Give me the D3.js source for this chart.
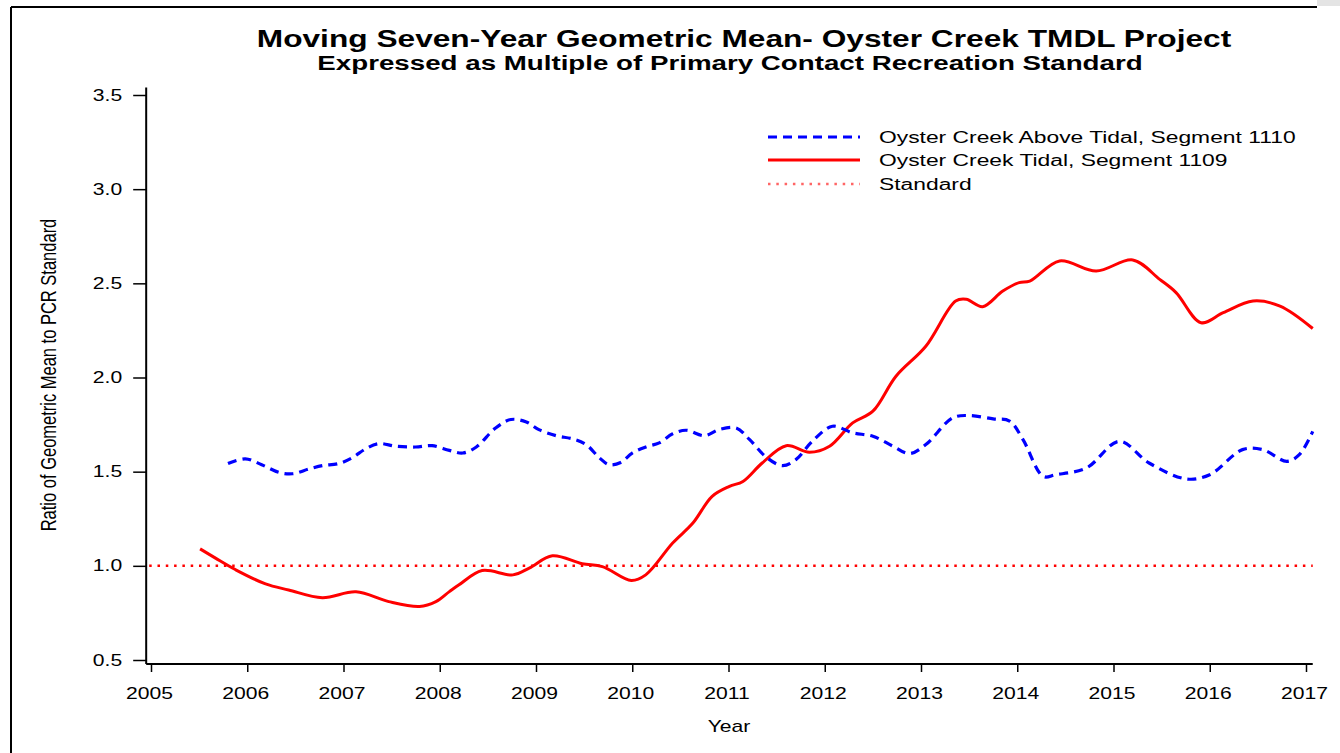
<!DOCTYPE html>
<html>
<head>
<meta charset="utf-8">
<script src="https://cdn.jsdelivr.net/npm/d3@7"></script>
<style>
  html, body { margin: 0; padding: 0; background: #fff; }
  svg { display: block; font-family: "Liberation Sans", Arial, sans-serif; }
</style>
</head>
<body>
<svg id="chart" width="1340" height="753"></svg>
<script>
// Data
const seriesNames = ["Oyster Creek Above Tidal, Segment 1110", "Oyster Creek Tidal, Segment 1109", "Standard"];

const blueYears = [2005.80, 2005.98, 2006.15, 2006.33, 2006.47, 2006.64, 2006.78, 2006.95, 2007.09, 2007.23,
  2007.37, 2007.54, 2007.75, 2007.92, 2008.10, 2008.24, 2008.38, 2008.58, 2008.74, 2008.90,
  2009.03, 2009.21, 2009.38, 2009.52, 2009.66, 2009.76, 2009.88, 2010.00, 2010.14, 2010.28,
  2010.42, 2010.56, 2010.75, 2010.90, 2011.08, 2011.22, 2011.39, 2011.56, 2011.70, 2011.87,
  2012.08, 2012.29, 2012.50, 2012.71, 2012.88, 2013.05, 2013.33, 2013.50, 2013.75, 2013.92,
  2014.06, 2014.27, 2014.40, 2014.72, 2015.06, 2015.37, 2015.76, 2016.00, 2016.34, 2016.55,
  2016.80, 2016.93, 2017.07];
const blueValues = [1.543, 1.568, 1.537, 1.496, 1.489, 1.514, 1.532, 1.543, 1.574, 1.621,
  1.649, 1.635, 1.631, 1.638, 1.613, 1.599, 1.631, 1.732, 1.777, 1.764,
  1.723, 1.691, 1.674, 1.644, 1.573, 1.537, 1.549, 1.599, 1.631, 1.653,
  1.701, 1.720, 1.691, 1.723, 1.732, 1.670, 1.578, 1.532, 1.564, 1.661,
  1.741, 1.706, 1.688, 1.635, 1.596, 1.644, 1.786, 1.798, 1.780, 1.769,
  1.670, 1.475, 1.484, 1.520, 1.661, 1.546, 1.461, 1.484, 1.617, 1.617,
  1.555, 1.590, 1.714];

const redYears = [2005.51, 2005.67, 2005.88, 2006.19, 2006.43, 2006.78, 2007.13, 2007.47, 2007.79, 2007.96,
  2008.10, 2008.20, 2008.44, 2008.76, 2008.93, 2009.17, 2009.48, 2009.69, 2009.99, 2010.14,
  2010.42, 2010.63, 2010.83, 2011.01, 2011.15, 2011.35, 2011.60, 2011.84, 2012.05, 2012.29,
  2012.50, 2012.74, 2013.05, 2013.36, 2013.47, 2013.64, 2013.85, 2014.02, 2014.13, 2014.44,
  2014.82, 2015.20, 2015.48, 2015.65, 2015.91, 2016.14, 2016.45, 2016.73, 2017.07];
const redValues = [1.090, 1.041, 0.979, 0.904, 0.872, 0.831, 0.862, 0.810, 0.784, 0.810,
  0.863, 0.899, 0.975, 0.952, 0.988, 1.053, 1.011, 0.996, 0.922, 0.952,
  1.121, 1.227, 1.369, 1.422, 1.448, 1.546, 1.638, 1.603, 1.635, 1.759,
  1.821, 2.007, 2.166, 2.406, 2.415, 2.376, 2.459, 2.504, 2.512, 2.619,
  2.565, 2.624, 2.521, 2.451, 2.291, 2.344, 2.406, 2.379, 2.260];

const standardValue = 1.0;
const xTicks = [2005, 2006, 2007, 2008, 2009, 2010, 2011, 2012, 2013, 2014, 2015, 2016, 2017];
const yTicks = [0.5, 1.0, 1.5, 2.0, 2.5, 3.0, 3.5];
const xExtent = [2004.95, 2017.07]; // axis line runs a bit past the end ticks
const yExtent = [0.48, 3.54];

// Layout
const SX = 1.32; // the original picture is stretched horizontally, text included
const colours = { blue: "#0000ff", red: "#ff0000" };

const svg = d3.select("#chart");

const x = d3.scaleLinear().domain([2005, 2017]).range([151, 1306]);
const y = d3.scaleLinear().domain([0.5, 3.5]).range([660, 95]);
const axisY = 664;

// stretched text helper
function label(g, txt, tx, ty, size, opts = {}) {
  return g.append("text")
    .attr("transform", `translate(${tx},${ty}) scale(${SX},1)` + (opts.rotate ? ` rotate(${opts.rotate})` : ""))
    .attr("text-anchor", opts.anchor || "middle")
    .attr("dominant-baseline", opts.baseline || "auto")
    .style("font-size", size + "px")
    .style("font-weight", opts.bold ? "bold" : "normal")
    .attr("fill", "#000")
    .text(txt);
}

// Frame around the picture
svg.append("rect").attr("x", 1317).attr("y", 0).attr("width", 23).attr("height", 6).attr("fill", "#e4e4e4");
svg.append("line").attr("x1", 11).attr("x2", 1317).attr("y1", 7).attr("y2", 7)
  .attr("stroke", "#000").attr("stroke-width", 2);
svg.append("line").attr("x1", 11).attr("x2", 11).attr("y1", 7).attr("y2", 753)
  .attr("stroke", "#000").attr("stroke-width", 2);

// Titles
label(svg, "Moving Seven-Year Geometric Mean- Oyster Creek TMDL Project", 744, 47, 24, { bold: true });
label(svg, "Expressed as Multiple of Primary Contact Recreation Standard", 730, 70, 21, { bold: true });

// Y axis
const yAxis = svg.append("g")
  .attr("transform", `translate(${x(xExtent[0])},0)`)
  .call(d3.axisLeft(y).tickValues(yTicks).tickFormat(d3.format(".1f")).tickSize(13).tickSizeOuter(0));
yAxis.select(".domain").remove();
yAxis.selectAll(".tick line").attr("stroke", "#000").attr("stroke-width", 1.5);
yAxis.selectAll(".tick text")
  .attr("x", null)
  .attr("transform", `translate(-24,0) scale(${SX},1)`)
  .attr("fill", "#000")
  .style("font-size", "16px")
  .style("font-family", "'Liberation Sans', Arial, sans-serif");
svg.append("line")
  .attr("x1", x(xExtent[0])).attr("x2", x(xExtent[0]))
  .attr("y1", y(yExtent[1])).attr("y2", axisY)
  .attr("stroke", "#000").attr("stroke-width", 2);

// X axis
const xAxis = svg.append("g")
  .attr("transform", `translate(0,${axisY})`)
  .call(d3.axisBottom(x).tickValues(xTicks).tickFormat(d3.format("d")).tickSize(8).tickSizeOuter(0));
xAxis.select(".domain").remove();
xAxis.selectAll(".tick line").attr("stroke", "#000").attr("stroke-width", 1.5);
xAxis.selectAll(".tick text")
  .attr("y", null).attr("dy", null)
  .attr("transform", `translate(-2,35) scale(${SX},1)`)
  .attr("fill", "#000")
  .style("font-size", "16px")
  .style("font-family", "'Liberation Sans', Arial, sans-serif");
svg.append("line")
  .attr("x1", x(xExtent[0])).attr("x2", x(xExtent[1]))
  .attr("y1", axisY).attr("y2", axisY)
  .attr("stroke", "#000").attr("stroke-width", 2);

// Axis titles
label(svg, "Year", 729, 732, 16);
label(svg, "Ratio of Geometric Mean to PCR Standard", 49, 375, 16.5, { rotate: -90, baseline: "central" });

// Standard line
svg.append("line")
  .attr("x1", x(xExtent[0]) + 3).attr("x2", x(xExtent[1]))
  .attr("y1", y(standardValue)).attr("y2", y(standardValue))
  .attr("stroke", colours.red).attr("stroke-width", 2.5)
  .attr("stroke-dasharray", "2.5,5.8");

// Series lines
const line = d3.line()
  .x(d => x(d[0]))
  .y(d => y(d[1]))
  .curve(d3.curveCatmullRom.alpha(0.5));

svg.append("path")
  .datum(d3.zip(redYears, redValues))
  .attr("fill", "none")
  .attr("stroke", colours.red)
  .attr("stroke-width", 3)
  .attr("stroke-linejoin", "round")
  .attr("d", line);

svg.append("path")
  .datum(d3.zip(blueYears, blueValues))
  .attr("fill", "none")
  .attr("stroke", colours.blue)
  .attr("stroke-width", 3.2)
  .attr("stroke-dasharray", "9,6")
  .attr("d", line);

// Legend
const legendItems = [
  { name: seriesNames[0], colour: colours.blue, dash: "9,6", width: 3.2, y: 137 },
  { name: seriesNames[1], colour: colours.red, dash: null, width: 3, y: 160 },
  { name: seriesNames[2], colour: colours.red, dash: "2.5,5.8", width: 2.5, y: 184 }
];
const legend = svg.append("g");
legendItems.forEach(d => {
  legend.append("line")
    .attr("x1", 768).attr("x2", 860)
    .attr("y1", d.y).attr("y2", d.y)
    .attr("stroke", d.colour)
    .attr("stroke-width", d.width)
    .attr("stroke-dasharray", d.dash)
    .attr("opacity", d.dash === "2.5,5.8" ? 0.6 : 1);
  label(legend, d.name, 879, d.y, 17.3, { anchor: "start", baseline: "central" });
});
</script>
</body>
</html>
